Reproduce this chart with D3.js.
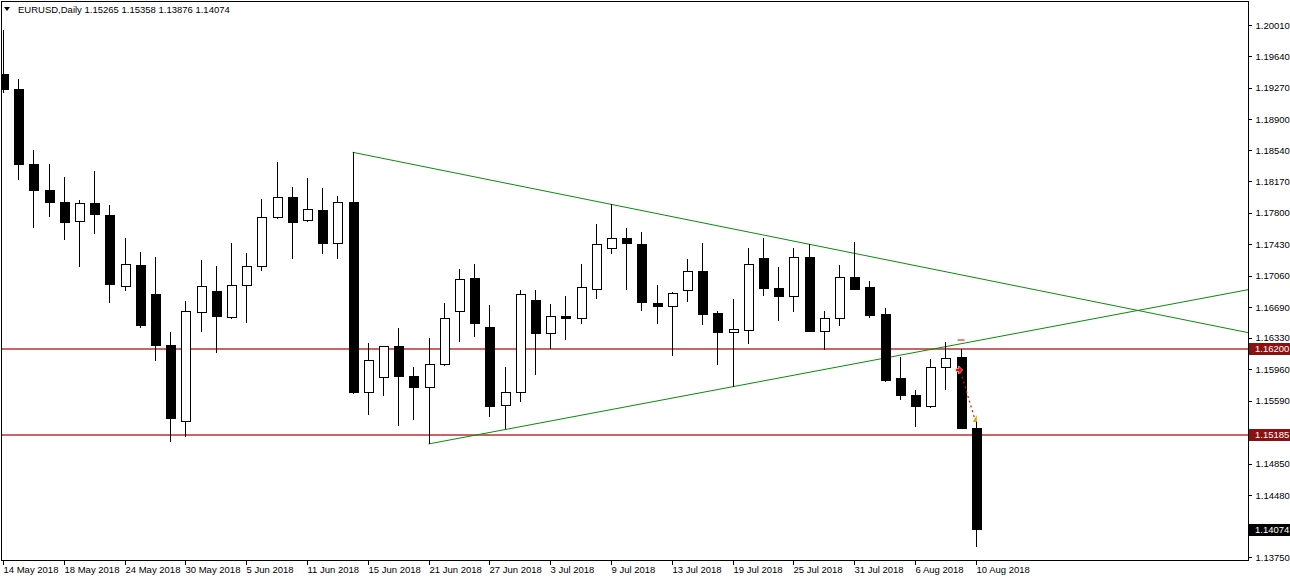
<!DOCTYPE html>
<html>
<head>
<meta charset="utf-8">
<script src="https://cdn.jsdelivr.net/npm/d3@7"></script>
<style>
  html, body { margin: 0; padding: 0; background: #fff; }
  svg { display: block; }
  text { font-family: 'Liberation Sans', Arial, sans-serif; font-size: 9px; }
</style>
</head>
<body>
<script>
var width = 1290
var height = 580

// EURUSD daily, 14 May 2018 - 10 Aug 2018
var dates = [
    '2018-05-14', '2018-05-15', '2018-05-16', '2018-05-17', '2018-05-18',
    '2018-05-21', '2018-05-22', '2018-05-23', '2018-05-24', '2018-05-25',
    '2018-05-28', '2018-05-29', '2018-05-30', '2018-05-31', '2018-06-01',
    '2018-06-04', '2018-06-05', '2018-06-06', '2018-06-07', '2018-06-08',
    '2018-06-11', '2018-06-12', '2018-06-13', '2018-06-14', '2018-06-15',
    '2018-06-18', '2018-06-19', '2018-06-20', '2018-06-21', '2018-06-22',
    '2018-06-25', '2018-06-26', '2018-06-27', '2018-06-28', '2018-06-29',
    '2018-07-02', '2018-07-03', '2018-07-04', '2018-07-05', '2018-07-06',
    '2018-07-09', '2018-07-10', '2018-07-11', '2018-07-12', '2018-07-13',
    '2018-07-16', '2018-07-17', '2018-07-18', '2018-07-19', '2018-07-20',
    '2018-07-23', '2018-07-24', '2018-07-25', '2018-07-26', '2018-07-27',
    '2018-07-30', '2018-07-31', '2018-08-01', '2018-08-02', '2018-08-03',
    '2018-08-06', '2018-08-07', '2018-08-08', '2018-08-09', '2018-08-10'
]

var opens = [
    1.19422, 1.19254, 1.18372, 1.18060, 1.17925,
    1.17697, 1.17905, 1.17767, 1.16932, 1.17187,
    1.16835, 1.16238, 1.15345, 1.16627, 1.16874,
    1.16568, 1.16949, 1.17167, 1.17744, 1.17980,
    1.17710, 1.17834, 1.17443, 1.17925, 1.15691,
    1.15867, 1.16224, 1.15879, 1.15745, 1.16023,
    1.16638, 1.17031, 1.16450, 1.15533, 1.15691,
    1.16772, 1.16384, 1.16584, 1.16561, 1.16905,
    1.17384, 1.17497, 1.17430, 1.16729, 1.16694,
    1.16893, 1.17109, 1.16620, 1.16396, 1.16423,
    1.17266, 1.16913, 1.16815, 1.17278, 1.16411,
    1.16561, 1.17043, 1.16920, 1.16608, 1.15850,
    1.15655, 1.15521, 1.15980, 1.16105, 1.15265
]
var highs = [
    1.19951, 1.19370, 1.18540, 1.18375, 1.18222,
    1.17952, 1.18293, 1.17893, 1.17505, 1.17340,
    1.17281, 1.16399, 1.16764, 1.17246, 1.17175,
    1.17446, 1.17328, 1.17964, 1.18399, 1.18105,
    1.18211, 1.18093, 1.18003, 1.18513, 1.16267,
    1.16239, 1.16443, 1.15991, 1.16326, 1.16737,
    1.17137, 1.17199, 1.16717, 1.15983, 1.16897,
    1.16897, 1.16729, 1.16823, 1.17199, 1.17666,
    1.17901, 1.17623, 1.17579, 1.16952, 1.16866,
    1.17258, 1.17450, 1.16647, 1.16788, 1.17391,
    1.17502, 1.17167, 1.17384, 1.17431, 1.16643,
    1.17188, 1.17458, 1.16999, 1.16678, 1.16102,
    1.15712, 1.16082, 1.16285, 1.16196, 1.15358
]
var lows = [
    1.19210, 1.18187, 1.17623, 1.17752, 1.17481,
    1.17164, 1.17552, 1.16744, 1.16885, 1.16447,
    1.16062, 1.15106, 1.15168, 1.16403, 1.16156,
    1.16553, 1.16509, 1.17120, 1.17728, 1.17262,
    1.17697, 1.17317, 1.17254, 1.15670, 1.15423,
    1.15643, 1.15298, 1.15365, 1.15083, 1.15999,
    1.16278, 1.16344, 1.15396, 1.15262, 1.15573,
    1.15897, 1.16203, 1.16302, 1.16490, 1.16791,
    1.17313, 1.16890, 1.16646, 1.16490, 1.16121,
    1.16749, 1.16482, 1.16012, 1.15756, 1.16258,
    1.16826, 1.16532, 1.16635, 1.16399, 1.16188,
    1.16470, 1.16893, 1.16568, 1.15812, 1.15600,
    1.15288, 1.15502, 1.15723, 1.15255, 1.13876
]
var closes = [
    1.19257, 1.18364, 1.18061, 1.17928, 1.17693,
    1.17905, 1.17776, 1.16961, 1.17196, 1.16480,
    1.16235, 1.15384, 1.16638, 1.16932, 1.16580,
    1.16952, 1.17175, 1.17749, 1.17980, 1.17685,
    1.17846, 1.17443, 1.17920, 1.15691, 1.16070,
    1.16227, 1.15879, 1.15745, 1.16023, 1.16561,
    1.17019, 1.16494, 1.15529, 1.15691, 1.16843,
    1.16380, 1.16584, 1.16561, 1.16921, 1.17431,
    1.17497, 1.17438, 1.16749, 1.16697, 1.16852,
    1.17109, 1.16610, 1.16391, 1.16427, 1.17199,
    1.16913, 1.16815, 1.17273, 1.16411, 1.16561,
    1.17043, 1.16905, 1.16599, 1.15832, 1.15655,
    1.15518, 1.15980, 1.16090, 1.15267, 1.14074
]

var xTickDates = [
    '2018-05-14', '2018-05-18', '2018-05-24', '2018-05-30', '2018-06-05',
    '2018-06-11', '2018-06-15', '2018-06-21', '2018-06-27', '2018-07-03',
    '2018-07-09', '2018-07-13', '2018-07-19', '2018-07-25', '2018-07-31',
    '2018-08-06', '2018-08-10'
]
var yTicks = [
    1.2001, 1.1964, 1.1927, 1.189, 1.1854, 1.1817, 1.178, 1.1743, 1.1706,
    1.1669, 1.1633, 1.1596, 1.1559, 1.1522, 1.1485, 1.1448, 1.1411, 1.1375
]

// horizontal levels, trend lines (bar index, price), trade marks
var levels = [1.162, 1.15185]
var upperTrend = [[23, 1.18513], [40, 1.17901]]
var lowerTrend = [[28, 1.15083], [48, 1.15756]]
var tradeOpen = [63, 1.15953]
var tradeClose = [64, 1.15376]
var stopLevel = [63, 1.16305]

var title = 'EURUSD,Daily'

var plotLeft = 2
var plotTop = 2
var plotRight = 1248
var plotBottom = 560

var x = d3.scalePoint().domain(dates).range([3, 3 + 15.2 * 64])
var y = d3.scaleLinear().domain([1.1375, 1.2001]).range([557.3, 25])

var fmtPrice = d3.format('.5f')
var parseDate = d3.timeParse('%Y-%m-%d')
var fmtDate = d3.timeFormat('%-d %b %Y')

var bars = dates.map(function (d, i) {
    return { date: d, i: i, o: opens[i], h: highs[i], l: lows[i], c: closes[i] }
})

var svg = d3
    .select('body')
    .append('svg')
    .attr('width', width)
    .attr('height', height)

svg.append('rect').attr('width', width).attr('height', height).attr('fill', '#fff')

svg.append('clipPath')
    .attr('id', 'plot-clip')
    .append('rect')
    .attr('x', plotLeft)
    .attr('y', plotTop)
    .attr('width', plotRight - plotLeft)
    .attr('height', plotBottom - plotTop)

var plot = svg.append('g').attr('clip-path', 'url(#plot-clip)')

// levels
plot.selectAll('line.level')
    .data(levels)
    .enter()
    .append('line')
    .attr('class', 'level')
    .attr('x1', plotLeft)
    .attr('x2', plotRight)
    .attr('y1', function (d) { return Math.round(y(d)) })
    .attr('y2', function (d) { return Math.round(y(d)) })
    .attr('stroke', '#b83232')
    .attr('stroke-width', 1.4)

// trend lines, extended to the right edge
function trendPoints(t) {
    var i0 = t[0][0], p0 = t[0][1], i1 = t[1][0], p1 = t[1][1]
    var slope = (p1 - p0) / (i1 - i0)
    var iEnd = i0 + (plotRight - x(dates[i0])) / x.step()
    return [[x(dates[i0]), y(p0)], [plotRight, y(p0 + slope * (iEnd - i0))]]
}

plot.selectAll('line.trend')
    .data([upperTrend, lowerTrend])
    .enter()
    .append('line')
    .attr('class', 'trend')
    .each(function (t) {
        var pts = trendPoints(t)
        d3.select(this)
            .attr('x1', pts[0][0])
            .attr('y1', pts[0][1])
            .attr('x2', pts[1][0])
            .attr('y2', pts[1][1])
    })
    .attr('stroke', '#0a8c0a')
    .attr('stroke-width', 1)

// candles
var candle = plot.append('g')
    .attr('shape-rendering', 'crispEdges')
    .selectAll('g')
    .data(bars)
    .enter()
    .append('g')
    .attr('transform', function (d) { return 'translate(' + Math.round(x(d.date)) + ',0)' })

candle.append('line')
    .attr('x1', 0.5)
    .attr('x2', 0.5)
    .attr('y1', function (d) { return y(d.h) })
    .attr('y2', function (d) { return y(d.l) })
    .attr('stroke', '#000')

candle.append('rect')
    .attr('x', -4)
    .attr('width', 9)
    .attr('y', function (d) { return y(Math.max(d.o, d.c)) })
    .attr('height', function (d) { return Math.max(1, Math.abs(y(d.o) - y(d.c))) })
    .attr('fill', function (d) { return d.c >= d.o ? '#fff' : '#000' })
    .attr('stroke', '#000')
    .attr('stroke-width', 1)

// trade marks
var tOpen = [x(dates[tradeOpen[0]]) - 2, y(tradeOpen[1])]
var tClose = [x(dates[tradeClose[0]]) - 1, y(tradeClose[1])]

plot.append('line')
    .attr('x1', tOpen[0] + 2)
    .attr('y1', tOpen[1] + 2)
    .attr('x2', tClose[0])
    .attr('y2', tClose[1])
    .attr('stroke', '#ff0000')
    .attr('stroke-width', 1.2)
    .attr('stroke-dasharray', '2,3')

plot.append('path')
    .attr('d', 'M-3,-1.5 L0,-1.5 L0,-4 L4,0 L0,4 L0,1.5 L-3,1.5 Z')
    .attr('transform', 'translate(' + tOpen[0] + ',' + tOpen[1] + ')')
    .attr('fill', '#ff0000')
    .attr('stroke', '#fff')
    .attr('stroke-width', 0.6)

plot.append('path')
    .attr('d', 'M2,-4 L2,3 L-2,3 Z')
    .attr('transform', 'translate(' + tClose[0] + ',' + tClose[1] + ')')
    .attr('fill', '#e8a000')

plot.append('line')
    .attr('x1', x(dates[stopLevel[0]]) - 3)
    .attr('x2', x(dates[stopLevel[0]]) + 4)
    .attr('y1', y(stopLevel[1]))
    .attr('y2', y(stopLevel[1]))
    .attr('stroke', '#ff2020')
    .attr('stroke-width', 1.2)

// frame
svg.append('rect')
    .attr('x', plotLeft - 0.5)
    .attr('y', plotTop - 0.5)
    .attr('width', plotRight - plotLeft + 1)
    .attr('height', plotBottom - plotTop + 1)
    .attr('fill', 'none')
    .attr('stroke', '#000')
    .attr('stroke-width', 1)
    .attr('shape-rendering', 'crispEdges')

// price axis
var yAxis = svg.append('g')
    .attr('transform', 'translate(' + (plotRight + 0.5) + ',0)')
    .call(
        d3.axisRight(y)
            .tickValues(yTicks)
            .tickSize(3)
            .tickPadding(4)
            .tickFormat(fmtPrice)
    )
yAxis.select('.domain').remove()
yAxis.selectAll('line').attr('stroke', '#000').attr('shape-rendering', 'crispEdges')
yAxis.selectAll('text')
    .attr('fill', '#000')
    .style('font-family', "'Liberation Sans', Arial, sans-serif")
    .style('font-size', '9.5px')

// level labels and last price label
var tags = levels
    .map(function (p) { return { p: p, bg: '#8b1111' } })
    .concat([{ p: closes[closes.length - 1], bg: '#000' }])

var tag = svg.selectAll('g.tag')
    .data(tags)
    .enter()
    .append('g')
    .attr('class', 'tag')
    .attr('transform', function (d) { return 'translate(' + (plotRight + 1) + ',' + Math.round(y(d.p)) + ')' })

tag.append('rect')
    .attr('x', 0)
    .attr('y', -6)
    .attr('width', width - plotRight - 1)
    .attr('height', 12)
    .attr('fill', function (d) { return d.bg })

tag.append('text')
    .attr('x', 6)
    .attr('dy', '0.35em')
    .attr('fill', '#fff')
    .style('font-size', '9.5px')
    .text(function (d) { return fmtPrice(d.p) })

// time axis
var xAxis = svg.append('g')
    .attr('transform', 'translate(0,' + (plotBottom + 0.5) + ')')
    .call(
        d3.axisBottom(x)
            .tickValues(xTickDates)
            .tickSize(4)
            .tickPadding(2)
            .tickFormat(function (d) { return fmtDate(parseDate(d)) })
    )
xAxis.select('.domain').remove()
xAxis.selectAll('.tick').attr('transform', function (d) {
    return 'translate(' + (Math.round(x(d)) + 0.5) + ',0)'
})
xAxis.selectAll('line').attr('stroke', '#000').attr('shape-rendering', 'crispEdges')
xAxis.selectAll('text')
    .attr('fill', '#000')
    .attr('text-anchor', 'start')
    .attr('x', 0)
    .style('font-family', "'Liberation Sans', Arial, sans-serif")
    .style('font-size', '9.5px')

// header
svg.append('path')
    .attr('d', 'M4,7 L10,7 L7,11 Z')
    .attr('fill', '#000')

svg.append('text')
    .attr('x', 18)
    .attr('y', 13)
    .attr('fill', '#000')
    .style('font-size', '9.5px')
    .text(title + '  ' + [opens, highs, lows, closes].map(function (a) { return fmtPrice(a[a.length - 1]) }).join(' '))
</script>
</body>
</html>
